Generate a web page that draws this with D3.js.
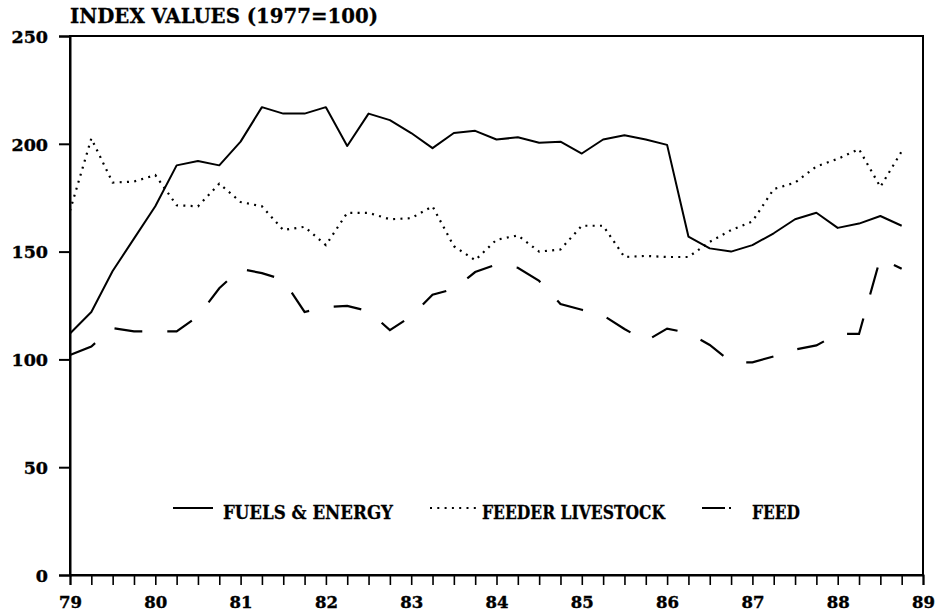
<!DOCTYPE html>
<html>
<head>
<meta charset="utf-8">
<script src="https://cdn.jsdelivr.net/npm/d3@7/dist/d3.min.js"></script>
<style>
  html, body { margin: 0; padding: 0; background: #fff; }
  svg { display: block; }
</style>
</head>
<body>
<svg id="chart" width="937" height="615"></svg>
<script>
// ---- data (quarterly, 1979Q1 .. 1988Q4) ----
const quarters = d3.range(40).map(i => 79 + i / 4);
const fuels = [112, 122, 141, 156, 171, 190, 192, 190, 201, 217,
               214, 214, 217, 199, 214, 211, 205, 198, 205, 206,
               202, 203, 200.5, 201, 195.5, 202, 204, 202, 199.5, 157,
               151.5, 150, 153, 158.5, 165, 168, 161, 163, 166.5, 162];
const feeder = [169, 202.5, 182, 182.5, 185.5, 171.5, 171, 181.5, 173, 171,
                160, 161.5, 153, 168, 168, 165, 165.5, 171, 152.5, 146,
                155.5, 157.5, 150, 151, 162, 162, 147.5, 148, 147.5, 147.5,
                154.5, 160, 164, 179, 182, 189.5, 193, 197.5, 180, 196.5];
const feed = [102, 106, 114.5, 113, 113, 113, 120, 133, 142, 140,
              137, 122, 124.3, 124.8, 122.4, 113.6, 120, 130, 132.7, 140.5,
              144, 142.5, 136.4, 125.7, 123, 120.4, 114.1, 108.5, 114.3, 112.2,
              106.7, 98.8, 98.6, 101.4, 104.6, 106.5, 111.8, 111.8, 147, 142];
const yTicks = [0, 50, 100, 150, 200, 250];
const yearTicks = [79, 80, 81, 82, 83, 84, 85, 86, 87, 88, 89];
const seriesNames = ["FUELS & ENERGY", "FEEDER LIVESTOCK", "FEED"];
const title = "INDEX VALUES (1977=100)";

const svg = d3.select("#chart");
const L = 70, R = 923, T = 36, B = 575;
const x = d3.scaleLinear().domain([79, 89]).range([L, R]);
const y = d3.scaleLinear().domain([0, 250]).range([B, T]);

const numFont = "'DejaVu Serif', serif";

// frame
svg.append("rect").attr("x", L).attr("y", T).attr("width", R - L).attr("height", B - T)
  .attr("fill", "none").attr("stroke", "#000").attr("stroke-width", 2);

// y axis
const yAxis = svg.append("g").attr("transform", `translate(${L},0)`)
  .call(d3.axisLeft(y).tickValues(yTicks).tickSize(11).tickPadding(11).tickFormat(d3.format("d")));
yAxis.select(".domain").attr("stroke-width", 2);
yAxis.selectAll(".tick line").attr("stroke-width", 2);
yAxis.selectAll(".tick text").attr("font-family", numFont).attr("font-weight", "bold")
  .attr("font-size", 17.5).attr("fill", "#000").attr("x", -22).attr("dy", "0.36em")
  .attr("stroke", "#000").attr("stroke-width", 0.4);

// x axis
const allTicks = d3.range(41).map(i => 79 + i / 4);
const xAxis = svg.append("g").attr("transform", `translate(0,${B})`)
  .call(d3.axisBottom(x).tickValues(allTicks).tickSize(10)
    .tickFormat(d => Number.isInteger(d) && yearTicks.includes(d) ? String(d) : ""));
xAxis.select(".domain").attr("stroke-width", 2);
xAxis.selectAll(".tick line").attr("stroke-width", 1.6);
xAxis.selectAll(".tick text").attr("font-family", numFont).attr("font-weight", "bold")
  .attr("font-size", 16.5).attr("fill", "#000").attr("y", 33).attr("dy", 0)
  .attr("stroke", "#000").attr("stroke-width", 0.4);

// lines
const line = vals => d3.line().x((d, i) => x(quarters[i])).y(d => y(d))(vals);
svg.append("path").attr("d", line(fuels)).attr("fill", "none").attr("stroke", "#000")
  .attr("stroke-width", 2).attr("stroke-linejoin", "round");
svg.append("path").attr("d", line(feeder)).attr("fill", "none").attr("stroke", "#000")
  .attr("stroke-width", 2.2).attr("stroke-dasharray", "2,5.3");
svg.append("path").attr("d", line(feed)).attr("fill", "none").attr("stroke", "#000")
  .attr("stroke-width", 2.2).attr("stroke-dasharray", "28,25");

// title
svg.append("text").attr("x", L).attr("y", 23).text(title)
  .attr("font-family", numFont).attr("font-weight", "bold").attr("font-size", 20)
  .attr("textLength", 308).attr("lengthAdjust", "spacingAndGlyphs")
  .attr("stroke", "#000").attr("stroke-width", 0.3);

// legend
const legY = 508, legTextY = 519;
const leg = svg.append("g");
leg.append("line").attr("x1", 173).attr("x2", 213).attr("y1", legY).attr("y2", legY)
  .attr("stroke", "#000").attr("stroke-width", 2);
leg.append("line").attr("x1", 430).attr("x2", 477).attr("y1", legY).attr("y2", legY)
  .attr("stroke", "#000").attr("stroke-width", 2.2).attr("stroke-dasharray", "2,5.3");
leg.append("line").attr("x1", 702).attr("x2", 731).attr("y1", legY).attr("y2", legY)
  .attr("stroke", "#000").attr("stroke-width", 2.2).attr("stroke-dasharray", "23,4,2,20");
const legText = [[223, 170], [482, 183], [752, 48]];
seriesNames.forEach((n, i) => {
  leg.append("text").attr("x", legText[i][0]).attr("y", legTextY).text(n)
    .attr("font-family", numFont).attr("font-weight", "bold").attr("font-size", 18)
    .attr("textLength", legText[i][1]).attr("lengthAdjust", "spacingAndGlyphs")
    .attr("stroke", "#000").attr("stroke-width", 0.3);
});
</script>
</body>
</html>
